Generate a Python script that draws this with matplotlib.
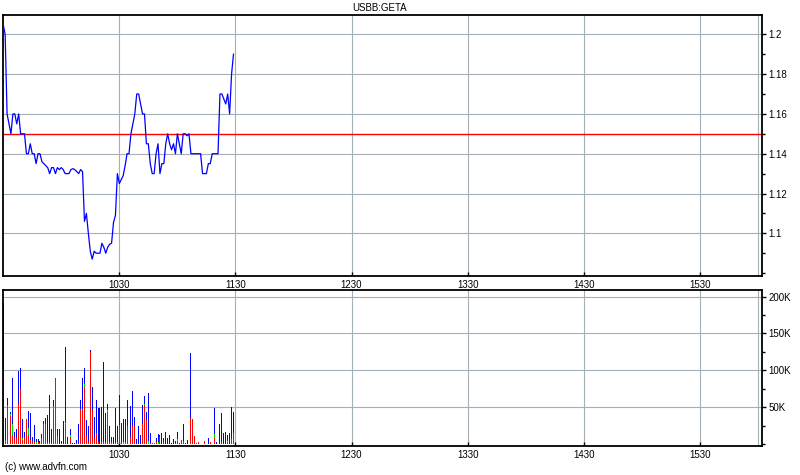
import matplotlib
matplotlib.use("Agg")
import matplotlib.pyplot as plt
from matplotlib.ticker import FixedLocator, FuncFormatter, MultipleLocator

# ---------------- data ----------------
title = "USBB:GETA"
credit = "(c) www.advfn.com"
ref_price = 1.15

# price, one value per minute from 09:30
price = [1.205, 1.200, 1.160, 1.155, 1.150, 1.160, 1.160, 1.155, 1.160, 1.150,
         1.150, 1.150, 1.140, 1.140, 1.145, 1.140, 1.140, 1.135, 1.140, 1.140,
         1.136, 1.135, 1.134, 1.133, 1.130, 1.133, 1.133, 1.130, 1.133, 1.132,
         1.133, 1.132, 1.130, 1.130, 1.130, 1.132, 1.1325, 1.132, 1.131, 1.130,
         1.132, 1.131, 1.106, 1.110, 1.100, 1.091, 1.087, 1.091, 1.090, 1.090,
         1.090, 1.095, 1.093, 1.090, 1.093, 1.0945, 1.095, 1.1055, 1.109, 1.130,
         1.125, 1.127, 1.129, 1.134, 1.140, 1.140, 1.150, 1.155, 1.160, 1.170,
         1.170, 1.165, 1.160, 1.160, 1.145, 1.145, 1.135, 1.130, 1.130, 1.140,
         1.145, 1.130, 1.135, 1.135, 1.145, 1.150, 1.145, 1.142, 1.145, 1.140,
         1.150, 1.145, 1.140, 1.150, 1.150, 1.149, 1.150, 1.140, 1.140, 1.140,
         1.140, 1.140, 1.140, 1.130, 1.130, 1.130, 1.135, 1.135, 1.140, 1.140,
         1.140, 1.140, 1.170, 1.170, 1.1675, 1.165, 1.170, 1.160, 1.180, 1.190]

# volume per minute (thousands): total, red part, green part (blue = rest)
vol_total = [191, 36, 62, 52, 44, 90, 16, 21, 99, 103,
             34, 17, 34, 45, 42, 10, 26, 7, 7, 5,
             14, 32, 35, 40, 66, 21, 60, 90, 21, 20,
             4, 31, 132, 10, 22, 21, 1, 2, 6, 27,
             60, 90, 103, 33, 25, 127, 78, 37, 60, 49,
             49, 51, 112, 42, 54, 24, 10, 10, 49, 24,
             66, 29, 34, 34, 60, 28, 52, 72, 37, 7,
             25, 12, 53, 65, 43, 70, 15, 2, 2, 9,
             14, 12, 15, 9, 17, 9, 13, 2, 7, 4,
             16, 1, 6, 27, 1, 6, 6, 124, 34, 11,
             2, 3, 0, 0, 5, 0, 8, 3, 0, 49,
             3, 44, 28, 42, 15, 16, 12, 15, 51, 43]
vol_red = [0, 6, 53, 40, 38, 12, 10, 8, 55, 75,
           6, 10, 34, 12, 6, 5, 3, 0, 3, 2,
           8, 28, 28, 3, 3, 1, 48, 90, 11, 0,
           2, 0, 27, 0, 3, 10, 0, 0, 2, 0,
           48, 48, 78, 11, 3, 125, 47, 8, 15, 3,
           0, 3, 3, 3, 44, 3, 3, 0, 3, 3,
           26, 3, 0, 3, 24, 0, 10, 25, 24, 0,
           0, 0, 28, 53, 33, 0, 2, 2, 1, 3,
           0, 10, 0, 3, 0, 0, 0, 0, 0, 2,
           4, 0, 6, 5, 0, 0, 0, 35, 34, 11,
           2, 3, 0, 0, 5, 0, 0, 3, 0, 9,
           0, 5, 0, 3, 0, 0, 3, 0, 8, 15]
vol_green = [100, 0, 0, 3, 3, 15, 0, 0, 0, 0,
             2, 0, 0, 10, 0, 0, 0, 3, 0, 0,
             0, 0, 0, 0, 0, 0, 3, 0, 0, 0,
             0, 0, 2, 0, 0, 3, 0, 0, 0, 0,
             0, 0, 3, 0, 0, 0, 0, 0, 0, 0,
             0, 0, 0, 0, 2, 0, 0, 0, 0, 0,
             0, 0, 3, 0, 0, 0, 0, 0, 0, 0,
             0, 0, 0, 2, 0, 5, 0, 0, 0, 0,
             3, 0, 0, 0, 0, 0, 0, 0, 0, 0,
             3, 0, 0, 0, 0, 0, 0, 0, 0, 0,
             0, 0, 0, 0, 0, 0, 0, 0, 0, 5,
             0, 15, 0, 0, 0, 0, 2, 0, 0, 0]

hour_ticks = [60, 120, 180, 240, 300, 360]          # minutes after 09:30
hour_labels = ["1030", "1130", "1230", "1330", "1430", "1530"]
price_ticks = [1.10, 1.12, 1.14, 1.16, 1.18, 1.20]
vol_ticks = [50, 100, 150, 200]

# ---------------- figure ----------------
FONT = "Liberation Sans"
fig = plt.figure(figsize=(8, 4.75), dpi=100)
fig.patch.set_facecolor("white")

ax1 = fig.add_axes([0.004, 0.4196, 0.949, 0.5488])
ax2 = fig.add_axes([0.004, 0.0611, 0.949, 0.3284])

minutes = list(range(len(price)))
grid_col = "#a4b0b8"

for ax in (ax1, ax2):
    ax.set_xlim(0, 392.3)
    for s in ax.spines.values():
        s.set_color("black")
        s.set_linewidth(1.3)
    ax.xaxis.set_major_locator(FixedLocator(hour_ticks))
    ax.set_xticklabels(hour_labels, fontsize=7, family=FONT)
    ax.tick_params(axis="x", direction="in", length=3, width=1, pad=3)
    ax.yaxis.tick_right()
    ax.tick_params(axis="y", which="major", direction="out", length=3, width=1,
                   pad=1.5, labelsize=7)
    ax.tick_params(axis="y", which="minor", direction="out", length=2, width=1)
    for xv in hour_ticks + [390]:
        ax.axvline(xv, color=grid_col, lw=0.8, zorder=0)

# price panel
ax1.set_ylim(1.0787, 1.2097)
for yv in price_ticks:
    ax1.axhline(yv, color=grid_col, lw=0.8, zorder=0)
ax1.yaxis.set_major_locator(FixedLocator(price_ticks))
ax1.yaxis.set_minor_locator(MultipleLocator(0.01))
ax1.yaxis.set_major_formatter(FuncFormatter(lambda v, p: f"{v:g}"))
ax1.axhline(ref_price, color="#ff0000", lw=1.0, zorder=2)
ax1.plot(minutes, price, color="#0000ff", lw=0.9, zorder=3)
for lab in ax1.get_yticklabels() + ax1.get_xticklabels():
    lab.set_family(FONT)
    lab.set_fontsize(7)

# volume panel
ax2.set_ylim(-2.4, 208.9)
for yv in vol_ticks:
    ax2.axhline(yv, color=grid_col, lw=0.8, zorder=0)
ax2.yaxis.set_major_locator(FixedLocator(vol_ticks))
ax2.yaxis.set_minor_locator(MultipleLocator(25))
ax2.yaxis.set_major_formatter(FuncFormatter(lambda v, p: f"{int(v)}K"))
vol_blue = [t - r - g for t, r, g in zip(vol_total, vol_red, vol_green)]
bottom_b = [r + g for r, g in zip(vol_red, vol_green)]
w = 0.5
common = dict(width=w, zorder=2, linewidth=0, antialiased=False)
ax2.bar(minutes, vol_red, color="#ff0000", **common)
ax2.bar(minutes, vol_green, bottom=vol_red, color="#00dd00", **common)
ax2.bar(minutes, vol_blue, bottom=bottom_b, color="#0000ff", **common)
for lab in ax2.get_yticklabels() + ax2.get_xticklabels():
    lab.set_family(FONT)
    lab.set_fontsize(7)

fig.text(0.475, 0.983, title, ha="center", va="center", fontsize=7, family=FONT)
fig.text(0.006, 0.017, credit, ha="left", va="center", fontsize=7, family=FONT)

fig.savefig("out.png", dpi=100)
